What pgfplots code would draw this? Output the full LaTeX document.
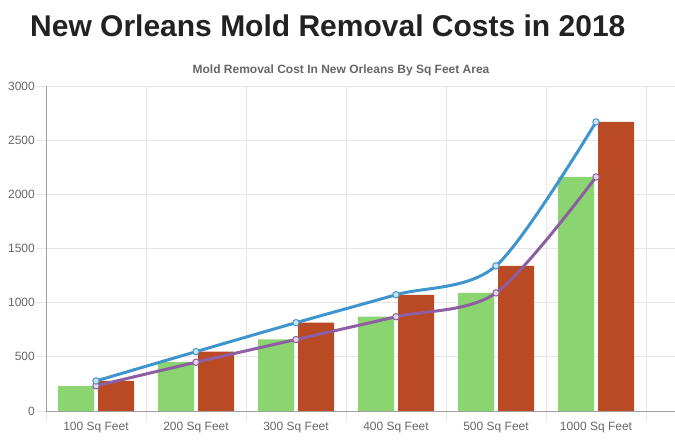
\documentclass[border=0pt]{standalone}
\usepackage{graphicx}
\usepackage{pgfplots}
\pgfplotsset{compat=1.18}
\usepackage{fontspec}
\setmainfont{Liberation Sans}
\definecolor{titlec}{HTML}{222222}
\definecolor{subc}{HTML}{666666}
\definecolor{tickc}{HTML}{666666}
\definecolor{gridc}{HTML}{E6E6E6}
\definecolor{axisc}{HTML}{A0A0A0}
\definecolor{greenc}{HTML}{8AD56F}
\definecolor{redc}{HTML}{B94A24}
\definecolor{bluec}{HTML}{3E95CD}
\definecolor{purplec}{HTML}{8E5EA2}
\begin{document}
\begin{tikzpicture}[x=1bp,y=1bp]
\path[use as bounding box] (0,0) rectangle (675,442);
\node[anchor=base west, font=\fontsize{30bp}{36bp}\selectfont\bfseries, text=titlec, inner sep=0pt] at (30,405.5) {New Orleans Mold Removal Costs in 2018};
\node[anchor=base, font=\fontsize{12bp}{14bp}\selectfont\bfseries, text=subc, inner sep=0pt] at (341,368.5) {Mold Removal Cost In New Orleans By Sq Feet Area};
\begin{axis}[
  at={(46bp,31bp)}, anchor=south west,
  scale only axis, width=629bp, height=325bp,
  xmin=-0.5, xmax=5.79, ymin=0, ymax=3000,
  axis lines*=left,
  axis line style={draw=axisc, line width=0.8bp},
  ytick={0,500,...,3000},
  xtick={0,...,5},
  xticklabels={100 Sq Feet,200 Sq Feet,300 Sq Feet,400 Sq Feet,500 Sq Feet,1000 Sq Feet},
  minor xtick={-0.5,0.5,...,5.5},
  xminorgrids=true, ymajorgrids=true, xmajorgrids=false,
  grid style={draw=gridc, line width=0.8bp},
  minor grid style={draw=gridc, line width=0.8bp},
  tick align=outside,
  major tick length=10bp, minor tick length=10bp,
  every major x tick/.append style={draw=none},
  every tick/.append style={draw=gridc, line width=0.8bp},
  tick label style={font=\fontsize{12bp}{14bp}\selectfont, text=tickc},
  yticklabel style={inner sep=1bp},
  xticklabel style={anchor=base, yshift=-10bp},
  /pgf/number format/assume math mode=true,
  /pgf/number format/1000 sep={},
  clip=false,
]
\addplot[ybar, bar width=0.36, bar shift=-0.2, fill=greenc, draw=none]
  coordinates {(0,230) (1,450) (2,660) (3,870) (4,1090) (5,2160)};
\addplot[ybar, bar width=0.36, bar shift=0.2, fill=redc, draw=none]
  coordinates {(0,277) (1,548) (2,815) (3,1073) (4,1340) (5,2668)};
\addplot[smooth, tension=0.5, draw=purplec, line width=3bp, mark=*, mark size=3.2bp,
  mark options={draw=purplec, fill=purplec!25, line width=1bp}]
  coordinates {(0,232) (1,450) (2,660) (3,870) (4,1090) (5,2160)};
\addplot[smooth, tension=0.5, draw=bluec, line width=3bp, mark=*, mark size=3.2bp,
  mark options={draw=bluec, fill=bluec!25, line width=1bp}]
  coordinates {(0,277) (1,548) (2,815) (3,1073) (4,1340) (5,2668)};
\end{axis}
\end{tikzpicture}
\end{document}
